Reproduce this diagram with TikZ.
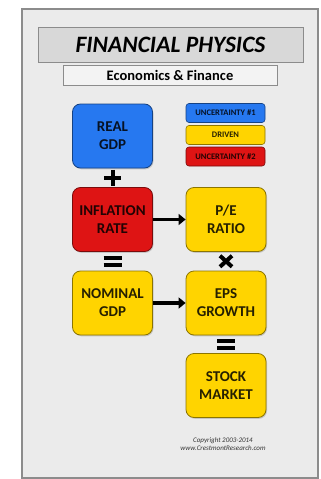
\documentclass[tikz,border=0pt]{standalone}
\usepackage{fontspec}
\setmainfont{Carlito}
\usetikzlibrary{positioning, arrows.meta, shadows, calc}

\definecolor{panelgray}{RGB}{235,235,235}
\definecolor{framegray}{RGB}{140,140,140}
\definecolor{titlegray}{RGB}{216,216,216}
\definecolor{subgray}{RGB}{243,243,243}
\definecolor{gdpblue}{RGB}{38,120,240}
\definecolor{inflred}{RGB}{222,20,20}
\definecolor{drivenyellow}{RGB}{255,212,0}

\begin{document}
\begin{tikzpicture}[x=1pt, y=-1pt,
    factor/.style={draw=#1!55!black, fill=#1, text=#1!15!black, line width=0.8pt,
        rounded corners=8pt, minimum width=80pt, minimum height=64pt, align=center,
        font=\fontsize{15}{18}\selectfont\bfseries,
        drop shadow={opacity=0.35, shadow xshift=1pt, shadow yshift=-1.3pt}},
    legendbox/.style={draw=#1!55!black, fill=#1, text=#1!15!black, line width=0.6pt,
        rounded corners=3pt, minimum width=79pt, minimum height=19pt, inner sep=1pt,
        font=\fontsize{8.5}{9}\selectfont\bfseries},
    flow/.style={-{Triangle[length=7pt, width=11pt]}, line width=3.5pt},
    op/.style={line width=4pt}]
    % Frame
    \useasboundingbox (0,0) rectangle (321,479);
    \fill[white] (0,0) rectangle (321,479);
    \draw[framegray, fill=panelgray, line width=2.5pt] (22,9) rectangle (318,478);

    % Heading
    \node[draw=framegray, fill=titlegray, line width=0.8pt, minimum width=265pt, minimum height=35pt,
        drop shadow={opacity=0.3, shadow xshift=1pt, shadow yshift=-1pt},
        font=\fontsize{23.5}{26}\selectfont\bfseries\itshape] (title) at (170.5,44.5) {FINANCIAL PHYSICS};
    \node[draw=framegray, fill=subgray, line width=0.8pt, minimum width=214pt, minimum height=20pt,
        inner sep=1pt, drop shadow={opacity=0.25, shadow xshift=1pt, shadow yshift=-1pt},
        font=\fontsize{14.5}{16}\selectfont\bfseries] (subtitle) at (170,75) {Economics \& Finance};

    % Factors
    \node[factor=gdpblue] (real) at (112.5,136) {REAL\\GDP};
    \node[factor=inflred] (infl) at (112.5,219.5) {INFLATION\\RATE};
    \node[factor=drivenyellow] (nominal) at (112.5,303) {NOMINAL\\GDP};
    \node[factor=drivenyellow] (pe) at (226,219.5) {P/E\\RATIO};
    \node[factor=drivenyellow] (eps) at (226,303) {EPS\\GROWTH};
    \node[factor=drivenyellow] (stock) at (226,385.5) {STOCK\\MARKET};

    % Legend
    \node[legendbox=gdpblue] (unc1) at (225.5,113) {UNCERTAINTY \#1};
    \node[legendbox=drivenyellow] (driven) at (225.5,135) {DRIVEN};
    \node[legendbox=inflred] (unc2) at (225.5,156.5) {UNCERTAINTY \#2};

    % Arrows
    \draw[flow] (infl) -- (pe);
    \draw[flow] (nominal) -- (eps);

    % Operators
    \coordinate (plus) at ($(real.south)!0.5!(infl.north)$);
    \coordinate (eqA) at ($(infl.south)!0.5!(nominal.north)$);
    \coordinate (times) at ($(pe.south)!0.5!(eps.north)$);
    \coordinate (eqB) at ($(eps.south)!0.5!(stock.north)$);
    \draw[op] ($(plus)+(-8.5,0)$) -- ++(17,0) ($(plus)+(0,-8)$) -- ++(0,16);
    \draw[op] ($(eqA)+(-9,-3.5)$) -- ++(18,0) ($(eqA)+(-9,3.5)$) -- ++(18,0);
    \draw[op] ($(times)+(-6,-5.5)$) -- ++(12,11) ($(times)+(-6,5.5)$) -- ++(12,-11);
    \draw[op] ($(eqB)+(-9,-3.5)$) -- ++(18,0) ($(eqB)+(-9,3.5)$) -- ++(18,0);

    % Copyright
    \node[align=center, font=\fontsize{7}{8.5}\selectfont\itshape, text=black!80] (copy) at (223,444)
        {Copyright 2003-2014\\www.CrestmontResearch.com};
\end{tikzpicture}
\end{document}
